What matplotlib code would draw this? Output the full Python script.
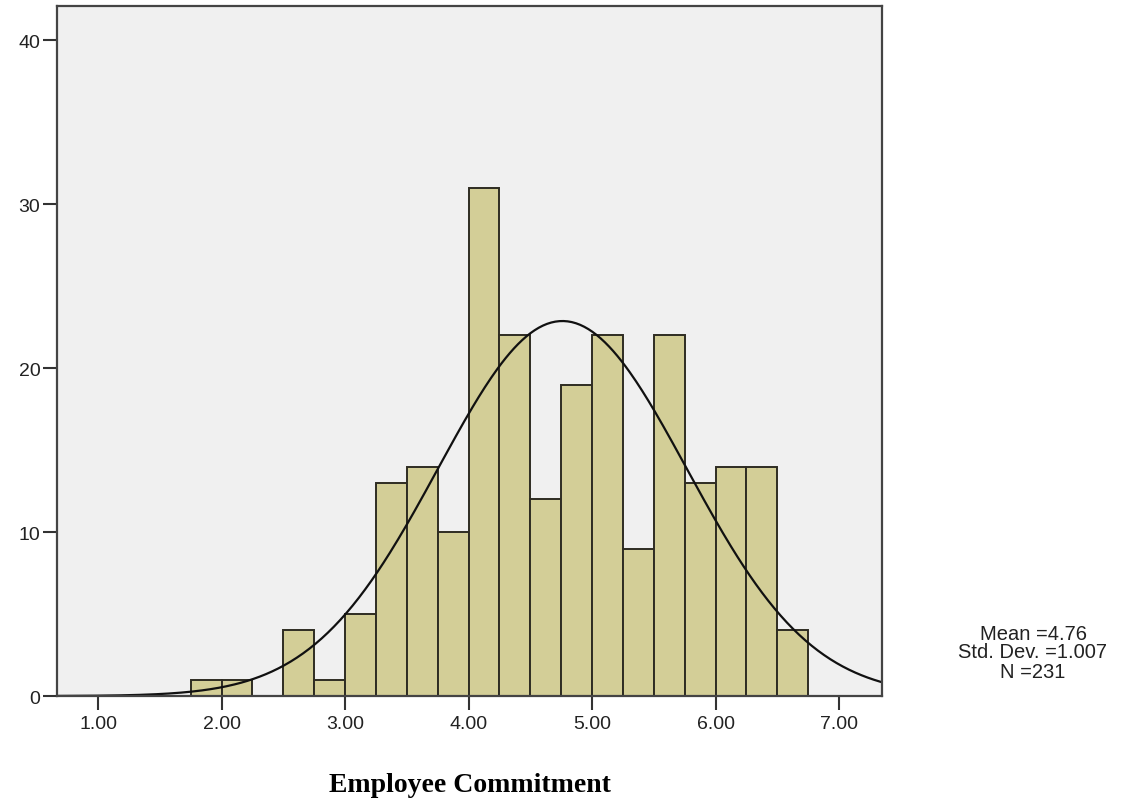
import numpy as np
import matplotlib
matplotlib.use("Agg")
import matplotlib.pyplot as plt

# Histogram data (bin edges every 0.25, counts)
bin_left = [1.75, 2.00, 2.25, 2.50, 2.75, 3.00, 3.25, 3.50, 3.75, 4.00,
            4.25, 4.50, 4.75, 5.00, 5.25, 5.50, 5.75, 6.00, 6.25, 6.50]
counts = [1, 1, 0, 4, 1, 5, 13, 14, 10, 31,
          22, 12, 19, 22, 9, 22, 13, 14, 14, 4]
bin_width = 0.25

mean = 4.76
std = 1.007
n = 231

x_ticks = [1, 2, 3, 4, 5, 6, 7]
x_labels = ["1.00", "2.00", "3.00", "4.00", "5.00", "6.00", "7.00"]
y_ticks = [0, 10, 20, 30, 40]

plt.rcParams['font.family'] = ['Liberation Sans', 'DejaVu Sans']

fig = plt.figure(figsize=(11.25, 8.12), dpi=100)
ax = fig.add_axes([0.0507, 0.1416, 0.7333, 0.8498])
ax.set_facecolor("#f0f0f0")

ax.bar(bin_left, counts, width=bin_width, align="edge",
       color="#d3ce97", edgecolor="#2e2c22", linewidth=1.4, zorder=2)

# normal curve scaled to counts
xs = np.linspace(0.668, 7.348, 400)
ys = n * bin_width * np.exp(-0.5 * ((xs - mean) / std) ** 2) / (std * np.sqrt(2 * np.pi))
ax.plot(xs, ys, color="#111111", linewidth=1.6, zorder=3)

ax.set_xlim(0.668, 7.348)
ax.set_ylim(0, 42.1)
ax.set_xticks(x_ticks)
ax.set_xticklabels(x_labels)
ax.set_yticks(y_ticks)

for s in ax.spines.values():
    s.set_color("#444444")
    s.set_linewidth(1.6)
    s.set_zorder(4)

ax.tick_params(axis="both", direction="out", length=10, width=1.5,
               color="#333333", labelsize=14, labelcolor="#222222")
ax.tick_params(axis="y", pad=2)
ax.tick_params(axis="x", pad=4)

fig.text(1033 / 1125, 1 - 653 / 812, "Mean =4.76\nStd. Dev. =1.007\nN =231",
         ha="center", va="center", fontsize=14.5, color="#222222",
         linespacing=1.0)

fig.text(470 / 1125, 1 - 786 / 812, "Employee Commitment",
         ha="center", va="center", fontsize=20, fontweight="bold",
         family=["Liberation Serif", "DejaVu Serif"], color="black")

fig.savefig("out.png", dpi=100)
